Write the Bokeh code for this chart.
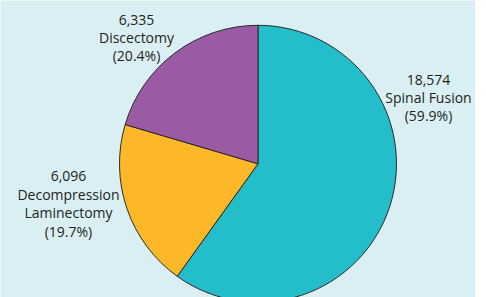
import math
from bokeh.plotting import figure
from bokeh.models import Range1d, ColumnDataSource
from bokeh.core.properties import value
from bokeh.embed import file_html
from bokeh.resources import INLINE

categories = ["Spinal Fusion", "Decompression\nLaminectomy", "Discectomy"]
counts = [18574, 6096, 6335]
percents = [59.9, 19.7, 20.4]
colors = ["#24bdca", "#fcb828", "#9a5ba4"]

# label anchor positions (page pixel coordinates, centre of text block)
label_x = [428, 68, 136]
label_y = [97, 203, 37]

W, H = 475, 297
PAGE_H = 297

def ty(page_y):
    return PAGE_H - page_y

cx, cy, r = 257.5, ty(163.3), 138.5

total = sum(counts)
starts, ends = [], []
cum = 0.0
for c in counts:
    starts.append(math.pi / 2 - 2 * math.pi * cum / total)
    cum += c
    ends.append(math.pi / 2 - 2 * math.pi * cum / total)

src = ColumnDataSource(dict(start=starts, end=ends, color=colors))

p = figure(width=W, height=H, output_backend="svg", toolbar_location=None,
           x_range=Range1d(0, W), y_range=Range1d(PAGE_H - H, PAGE_H),
           min_border=0)
p.axis.visible = False
p.grid.visible = False
p.outline_line_color = None
p.background_fill_color = "#d9eff3"
p.border_fill_color = "#d9eff3"

p.wedge(x=cx, y=cy, radius=r, start_angle="start", end_angle="end", direction="clock",
        fill_color="color", line_color="#2a2a2a", line_width=1, source=src)

texts = [f"{n:,}\n{c}\n({pc}%)" for n, c, pc in zip(counts, categories, percents)]
lsrc = ColumnDataSource(dict(x=label_x, y=[ty(v) for v in label_y], t=texts))
p.text(x="x", y="y", text="t", source=lsrc, text_font=value("Open Sans"),
       text_font_size="14px", text_align="center", text_baseline="middle",
       text_color="#231f20", text_line_height=0.97)

open("out.html", "w").write(file_html(p, INLINE))
